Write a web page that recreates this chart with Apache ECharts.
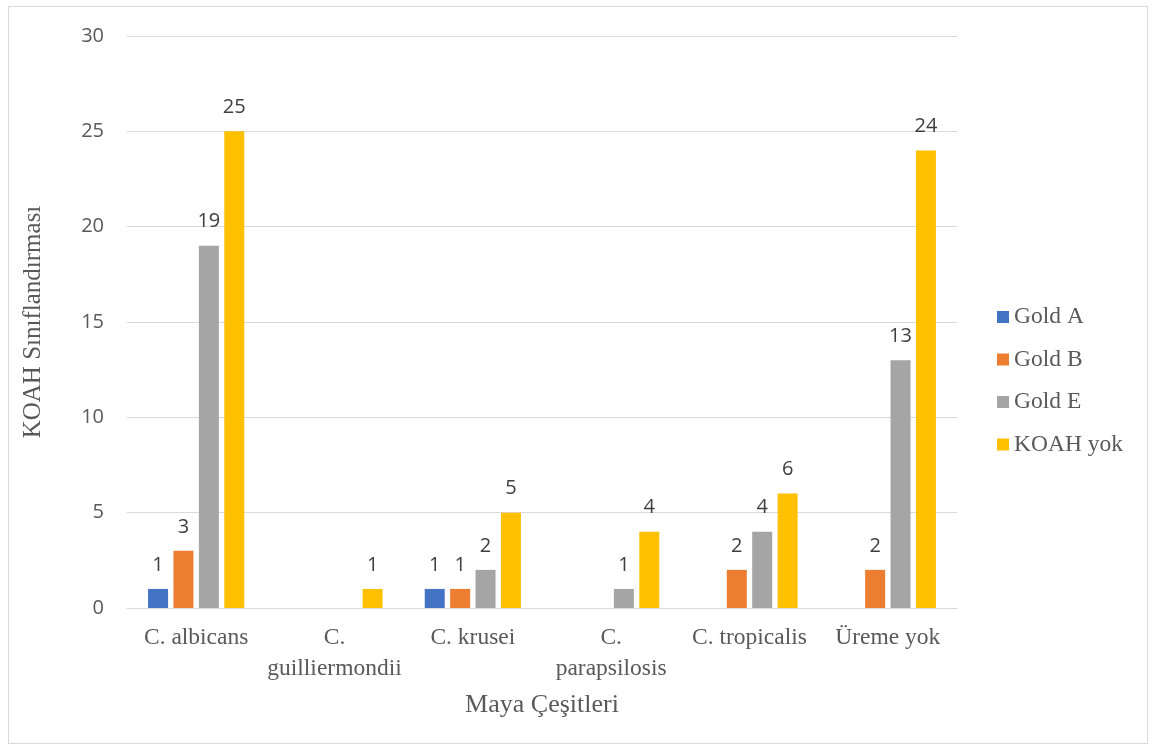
<!DOCTYPE html>
<html><head><meta charset="utf-8">
<script src="https://cdn.jsdelivr.net/npm/echarts@6/dist/echarts.min.js"></script>
<style>html,body{margin:0;padding:0;background:#fff}#c{width:1152px;height:746px}
#frame{position:absolute;left:8px;top:6px;width:1140px;height:738px;border:1px solid #d9d9d9;box-sizing:border-box;pointer-events:none}</style>
</head><body><div id="c"></div><div id="frame"></div>
<script>
const categories = ['C. albicans', 'C.\nguilliermondii', 'C. krusei', 'C.\nparapsilosis', 'C. tropicalis', 'Üreme yok'];
const seriesNames = ['Gold A', 'Gold B', 'Gold E', 'KOAH yok'];
const goldA = [1, 0, 1, 0, 0, 0];
const goldB = [3, 0, 1, 0, 2, 2];
const goldE = [19, 0, 2, 1, 4, 13];
const koahYok = [25, 1, 5, 4, 6, 24];
const yTicks = [0, 5, 10, 15, 20, 25, 30];
const colors = ['#4472c4', '#ed7d31', '#a5a5a5', '#ffc000'];
const allData = [goldA, goldB, goldE, koahYok];

const chart = echarts.init(document.getElementById('c'));
chart.setOption({
  animation: false,
  grid: {left: 127, right: 195, top: 36, bottom: 138},
  legend: {
    orient: 'vertical', left: 992, top: 300, itemGap: 18.5,
    itemWidth: 12, itemHeight: 12, icon: 'rect',
    textStyle: {fontFamily: 'Liberation Serif', fontSize: 23.5, color: '#595959'},
    data: seriesNames
  },
  xAxis: {
    type: 'category', data: categories,
    name: 'Maya Çeşitleri', nameLocation: 'middle', nameGap: 84,
    nameTextStyle: {fontFamily: 'Liberation Serif', fontSize: 26, color: '#595959'},
    axisLine: {lineStyle: {color: '#d9d9d9', width: 1}},
    axisTick: {show: false},
    axisLabel: {fontFamily: 'Liberation Serif', fontSize: 23.5, color: '#595959', margin: 14, lineHeight: 31, interval: 0}
  },
  yAxis: {
    type: 'value', min: yTicks[0], max: yTicks[yTicks.length - 1], interval: 5,
    name: 'KOAH Sınıflandırması', nameLocation: 'middle', nameGap: 81, nameRotate: 90,
    nameTextStyle: {fontFamily: 'Liberation Serif', fontSize: 25, color: '#595959'},
    axisLine: {show: false}, axisTick: {show: false},
    axisLabel: {fontFamily: 'Open Sans', fontSize: 20, color: '#595959', margin: 23},
    splitLine: {lineStyle: {color: '#d9d9d9', width: 1}}
  },
  series: seriesNames.map((n, i) => ({
    name: n, type: 'bar', data: allData[i], barWidth: 20, barGap: '27%',
    itemStyle: {color: colors[i]},
    label: {show: true, position: 'top', distance: 14, fontFamily: 'Open Sans', fontSize: 20, color: '#404040',
      formatter: p => p.value === 0 ? '' : String(p.value)}
  }))
});
</script></body></html>
